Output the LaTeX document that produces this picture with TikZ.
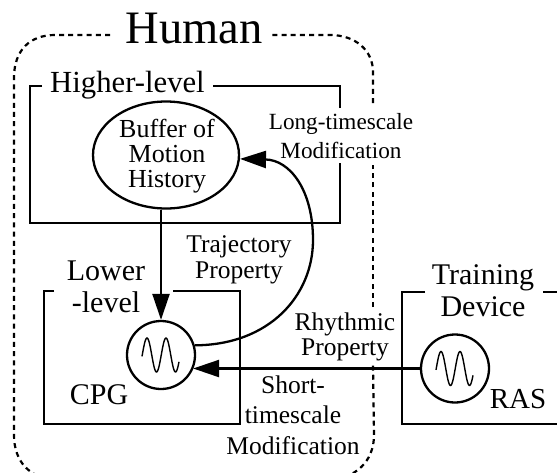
\documentclass[tikz,border=0pt]{standalone}
\usepackage{fontspec}
\setmainfont{Liberation Serif}
\usetikzlibrary{arrows.meta,shapes.geometric}
\newcommand{\fsz}[1]{\fontsize{#1}{#1}\selectfont}
\tikzset{
  boxline/.style={line width=2.3pt,line join=miter},
  humanline/.style={line width=2.2pt,dash pattern=on 5pt off 4.2pt},
  flow/.style={line width=2.3pt,-{Triangle[length=26pt,width=17pt]}},
  unit/.style={draw,circle,line width=2.3pt,minimum size=68pt,inner sep=0pt},
  wave/.style={line width=1.4pt,smooth,samples=60},
  lbl/.style={align=center,inner sep=0pt,font=\fsz{25.5}},
  title/.style={align=center,inner sep=0pt,font=\fsz{30}},
}
\begin{document}
\begin{tikzpicture}[x=1pt,y=-1pt]
\useasboundingbox (0,0) rectangle (557,472);
% Human envelope
\draw[humanline] (110,35) -- (55,35) .. controls (30,35) and (14,50) .. (14,78) -- (14,435)
  .. controls (14,462) and (30,478) .. (55,480) -- (330,480)
  .. controls (355,478) and (374,462) .. (374,435) -- (373,365);
\draw[humanline] (373,307) -- (373,165);
\draw[humanline] (373,103) -- (373,72) .. controls (373,50) and (355,35) .. (330,35) -- (272,35);
\node[inner sep=0pt,font=\fsz{46.5}] (human) at (194,28) {Human};
% Boxes
\draw[boxline] (42,86) -- (30,86) -- (30,223) -- (340,223) -- (340,163);
\draw[boxline] (340,108) -- (340,86) -- (213,86);
\draw[boxline] (54,291) -- (44,291) -- (44,424) -- (240,424) -- (240,291) -- (173,291);
\draw[boxline] (425,292) -- (402,292) -- (402,424) -- (557,424);
\draw[boxline] (543,292) -- (557,292);
% Units
\node[draw,ellipse,line width=2.3pt,minimum width=146pt,minimum height=107pt,inner sep=0pt] (buf) at (166,155) {};
\node[unit] (cpg) at (161,355) {};
\node[unit] (ras) at (455,368.5) {};
\draw[wave] plot[domain=-19:18] ({161+\x},{355-17*cos(360*(\x+14)/19)});
\draw[wave] plot[domain=-19:18] ({455+\x},{368.5-17*cos(360*(\x+14)/19)});
% Connectors
\coordinate (bend) at (313,240);
\draw[flow] (cpg.north |- buf.south) -- (cpg.north);
\draw[flow] (cpg.16) .. controls (270,345) and (313,295) .. (bend) .. controls (313,190) and (290,160) .. (buf.-3);
\draw[flow] (ras.west) -- (cpg.-24 |- ras.west);
% Labels
\node[title,font=\fsz{30.7}] (higher) at (127.5,85) {Higher-level};
\node[lbl,font=\fsz{26}] (buftext) at (167,156) {Buffer of\\[-1pt]Motion\\[-1pt]History};
\node[lbl,font=\fsz{23.2}] (long) at (341,136) {Long-timescale\\[5pt]Modification};
\node[lbl] (traj) at (239,260) {Trajectory\\[0pt]Property};
\node[title] (lower) at (106,287) {Lower\\[2pt]-level};
\node[title] (cpgt) at (99,395) {CPG};
\node[title] (train) at (483,291) {Training\\[2pt]Device};
\node[title,font=\fsz{29}] (rast) at (518,399) {RAS};
\node[lbl] (rhy) at (345,337) {Rhythmic\\[0pt]Property};
\node[lbl] (short) at (293,415) {Short-\\[5pt]timescale\\[5pt]Modification};
\end{tikzpicture}
\end{document}
